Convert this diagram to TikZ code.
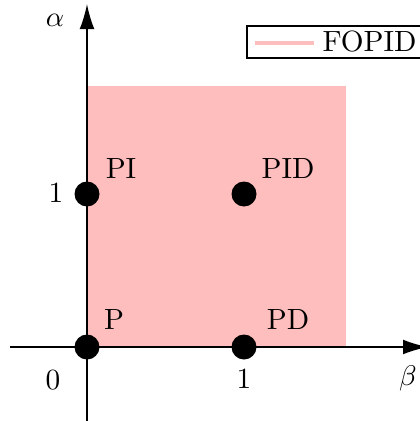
\documentclass[tikz,border=0pt]{standalone}
\usetikzlibrary{arrows.meta}
\definecolor{fopid}{RGB}{255,190,190}
\begin{document}
\begin{tikzpicture}[x=0.352pt,y=-0.352pt,
  axis/.style={line width=0.55pt,-{Latex[length=8.8pt,width=5.2pt]}},
  dot/.style={circle,fill=black,inner sep=0pt,minimum size=8.8pt},
  lbl/.style={font=\fontsize{10.3}{12}\selectfont,inner sep=0pt}]
\useasboundingbox (0,0) rectangle (419,421);
\fill[fopid] (87,86) rectangle (346,347);
\coordinate (xl) at (10,347);
\coordinate (xr) at (428,347);
\coordinate (yb) at (87,421);
\coordinate (yt) at (87,4);
\draw[axis] (xl) -- (xr);
\draw[axis] (yb) -- (yt);
\node[dot] (p) at (87,347) {};
\node[dot] (pi) at (87,194) {};
\node[dot] (pd) at (244,347) {};
\node[dot] (pid) at (244,194) {};
\node[lbl] (lp) at (114,320) {P};
\node[lbl] (lpi) at (121,169) {PI};
\node[lbl] (lpd) at (288,320) {PD};
\node[lbl] (lpid) at (288,169) {PID};
\node[lbl] (alpha) at (55,20) {$\alpha$};
\node[lbl] (beta) at (408,378) {$\beta$};
\node[lbl] (x0) at (53,380) {0};
\node[lbl] (x1) at (244,379) {1};
\node[lbl] (y1) at (56,193) {1};
\draw[line width=0.5pt] (247,26) rectangle (430,58);
\coordinate (la) at (255,43);
\coordinate (lb) at (314,43);
\draw[fopid,line width=1.1pt] (la) -- (lb);
\node[lbl,anchor=west] (leg) at (322,42) {FOPID};
\end{tikzpicture}
\end{document}
